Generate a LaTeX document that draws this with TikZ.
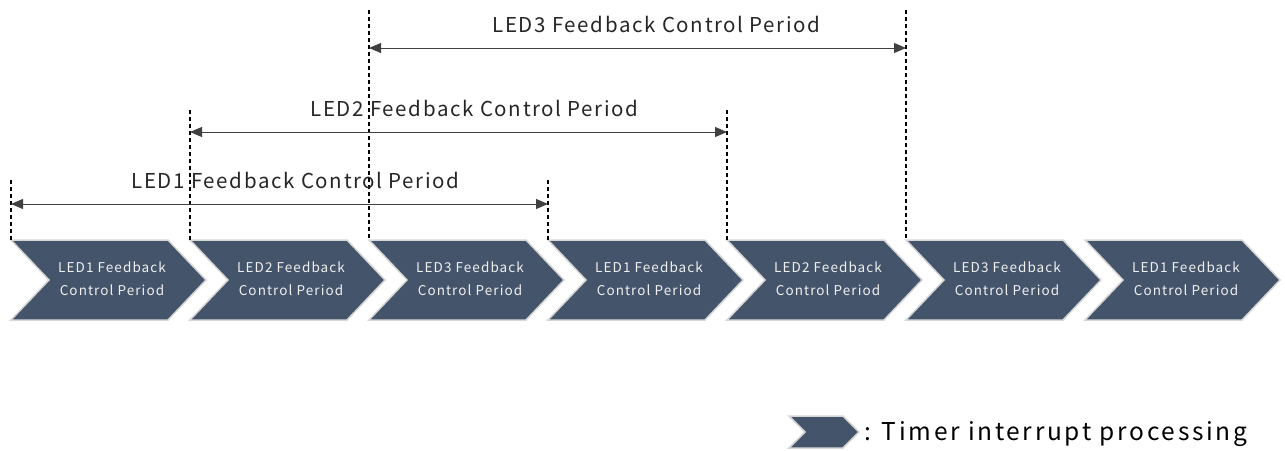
\documentclass[tikz,border=0pt]{standalone}
\usepackage{fontspec}
\setmainfont{Noto Sans CJK JP}
\newfontfamily\spacedfont[LetterSpace=8]{Noto Sans CJK JP}
\newfontfamily\legendfont[LetterSpace=11]{Noto Sans CJK JP}
\usetikzlibrary{arrows.meta,calc}
\definecolor{chev}{HTML}{44546A}
\definecolor{chevedge}{HTML}{D6D6D6}
\definecolor{arr}{HTML}{404040}
\begin{document}
\begin{tikzpicture}[x=1pt,y=-1pt,
  chevbox/.style={fill=chev,draw=chevedge,line width=1.5pt,line join=miter},
  chevtext/.style={text=white!94!black,font=\spacedfont\fontsize{13.5}{23}\selectfont,align=center,inner sep=0pt},
  guide/.style={dash pattern=on 4pt off 3pt,line width=1.3pt,draw=black},
  period/.style={{Triangle[length=12pt,width=10pt]}-{Triangle[length=12pt,width=10pt]},line width=1pt,draw=arr},
  periodlabel/.style={font=\spacedfont\fontsize{20.5}{24}\selectfont,text=black!85,inner sep=0pt},
  legendtext/.style={font=\legendfont\fontsize{24.5}{28}\selectfont,text=black,inner sep=0pt,anchor=base west}]
\useasboundingbox (0,0) rectangle (1285,450);
% chevrons
\foreach \i/\t in {0/1,1/2,2/3,3/1,4/2,5/3,6/1} {
  \pgfmathsetmacro\xo{11+179*\i}
  \path[chevbox] (\xo,240) -- (\xo+157,240) -- (\xo+195,280) -- (\xo+157,320) -- (\xo,320) -- (\xo+38,280) -- cycle;
  \node[chevtext] (c\i) at (\xo+101,278.5) {LED\t{} Feedback\\Control Period};
  \coordinate (g\i) at (\xo,240);
}
% dashed guides
\foreach \i/\h in {0/60,1/130,2/230,3/60,4/130,5/230} {
  \path (g\i) ++(0,-\h) coordinate (top\i);
  \draw[guide] (top\i) -- (g\i);
}
% period arrows
\path (g0) ++(0,-36) coordinate (a0);
\path (g3) ++(0,-36) coordinate (b0);
\path (g1) ++(0,-108) coordinate (a1);
\path (g4) ++(0,-108) coordinate (b1);
\path (g2) ++(0,-192) coordinate (a2);
\path (g5) ++(0,-192) coordinate (b2);
\draw[period] (a0) -- (b0);
\draw[period] (a1) -- (b1);
\draw[period] (a2) -- (b2);
\node[periodlabel] (l0) at ($(a0)!0.5!(b0)+(16,-23.5)$) {LED1 Feedback Control Period};
\node[periodlabel] (l1) at ($(a1)!0.5!(b1)+(16,-23.5)$) {LED2 Feedback Control Period};
\node[periodlabel] (l2) at ($(a2)!0.5!(b2)+(19,-23.5)$) {LED3 Feedback Control Period};
% legend
\path[chevbox] (789,416) -- (843,416) -- (859,432) -- (843,448) -- (789,448) -- (805,432) -- cycle;
\node[legendtext] (leg) at (864,440) {: Timer interrupt processing};
\end{tikzpicture}
\end{document}
